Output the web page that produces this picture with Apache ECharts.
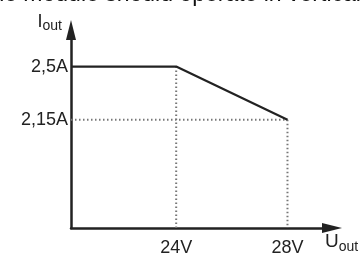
<!DOCTYPE html>
<html>
<head>
<meta charset="utf-8">
<script src="https://cdn.jsdelivr.net/npm/echarts@6/dist/echarts.min.js"></script>
<style>
    html, body { margin: 0; padding: 0; background: #fff; }
    #main { width: 363px; height: 257px; }
</style>
</head>
<body>
<div id="main"></div>
<script>
// sketch axis ranges (volts / amperes), the axes do not start at zero
const xRange = [20.22, 29.6];
const yRange = [1.44, 2.74];

// ticks and their labels
const xTicks = [24, 28];
const xTickLabels = ['24V', '28V'];
const yTicks = [2.15, 2.5];
const yTickLabels = ['2,15A', '2,5A'];

// output curve: 2,5A constant up to 24V, then falling to 2,15A at 28V
const curveU = [20.22, 24, 28];
const curveI = [2.5, 2.5, 2.15];

// dotted guide lines to the axes
const guideLines = [
    [[24, 2.5], [24, 1.44]],
    [[20.22, 2.15], [28, 2.15]],
    [[28, 2.15], [28, 1.44]]
];

const textColor = '#222';
const font = 'Liberation Sans';

const pickLabel = (ticks, labels) => (v) => {
    const i = ticks.findIndex(t => Math.abs(t - v) < 1e-6);
    return i >= 0 ? labels[i] : '';
};

const chart = echarts.init(document.getElementById('main'));

const option = {
    animation: false,
    grid: { left: 71, right: 31, top: 30, bottom: 27 },
    graphic: [
        {
            // text of the page above the picture, cut off at the top
            type: 'text',
            x: -15,
            y: -5,
            style: {
                text: 'the module should operate in vertical position',
                fontSize: 23,
                fontFamily: font,
                fill: '#111',
                verticalAlign: 'middle'
            }
        }
    ],
    xAxis: {
        type: 'value',
        min: xRange[0],
        max: xRange[1],
        name: '{m|U}{s|out}',
        nameLocation: 'end',
        nameGap: -7,
        nameTextStyle: {
            verticalAlign: 'top',
            padding: [4, 0, 0, 0],
            rich: {
                m: { fontSize: 19, fontFamily: font, color: textColor, verticalAlign: 'top', lineHeight: 22 },
                s: { fontSize: 14, fontFamily: font, color: textColor, verticalAlign: 'bottom', lineHeight: 22, padding: [8, 0, 0, 0] }
            }
        },
        axisLine: {
            onZero: false,
            symbol: ['none', 'triangle'],
            symbolSize: [10, 20],
            lineStyle: { color: '#222', width: 2.5 }
        },
        axisTick: { show: false },
        splitLine: { show: false },
        axisLabel: {
            customValues: xTicks,
            formatter: pickLabel(xTicks, xTickLabels),
            color: textColor,
            fontSize: 18,
            fontFamily: font,
            margin: 11
        }
    },
    yAxis: {
        type: 'value',
        min: yRange[0],
        max: yRange[1],
        name: '{m|I}{s|out}',
        nameLocation: 'end',
        nameGap: -3,
        nameTextStyle: {
            align: 'right',
            padding: [0, 9, 0, 0],
            rich: {
                m: { fontSize: 18, fontFamily: font, color: textColor, verticalAlign: 'top', lineHeight: 20 },
                s: { fontSize: 14, fontFamily: font, color: textColor, verticalAlign: 'bottom', lineHeight: 20, padding: [6, 0, 0, 0] }
            }
        },
        axisLine: {
            onZero: false,
            symbol: ['none', 'triangle'],
            symbolSize: [10, 20],
            lineStyle: { color: '#222', width: 2.5 }
        },
        axisTick: { show: false },
        splitLine: { show: false },
        axisLabel: {
            customValues: yTicks,
            formatter: pickLabel(yTicks, yTickLabels),
            color: textColor,
            fontSize: 18,
            fontFamily: font,
            margin: 3
        }
    },
    series: [
        ...guideLines.map(seg => ({
            type: 'line',
            data: seg,
            symbol: 'none',
            silent: true,
            z: 1,
            lineStyle: { color: '#777', width: 2, type: [1.5, 2.5] }
        })),
        {
            type: 'line',
            data: curveU.map((u, i) => [u, curveI[i]]),
            symbol: 'none',
            z: 3,
            lineStyle: { color: '#222', width: 2.2 }
        }
    ]
};

chart.setOption(option);
</script>
</body>
</html>
